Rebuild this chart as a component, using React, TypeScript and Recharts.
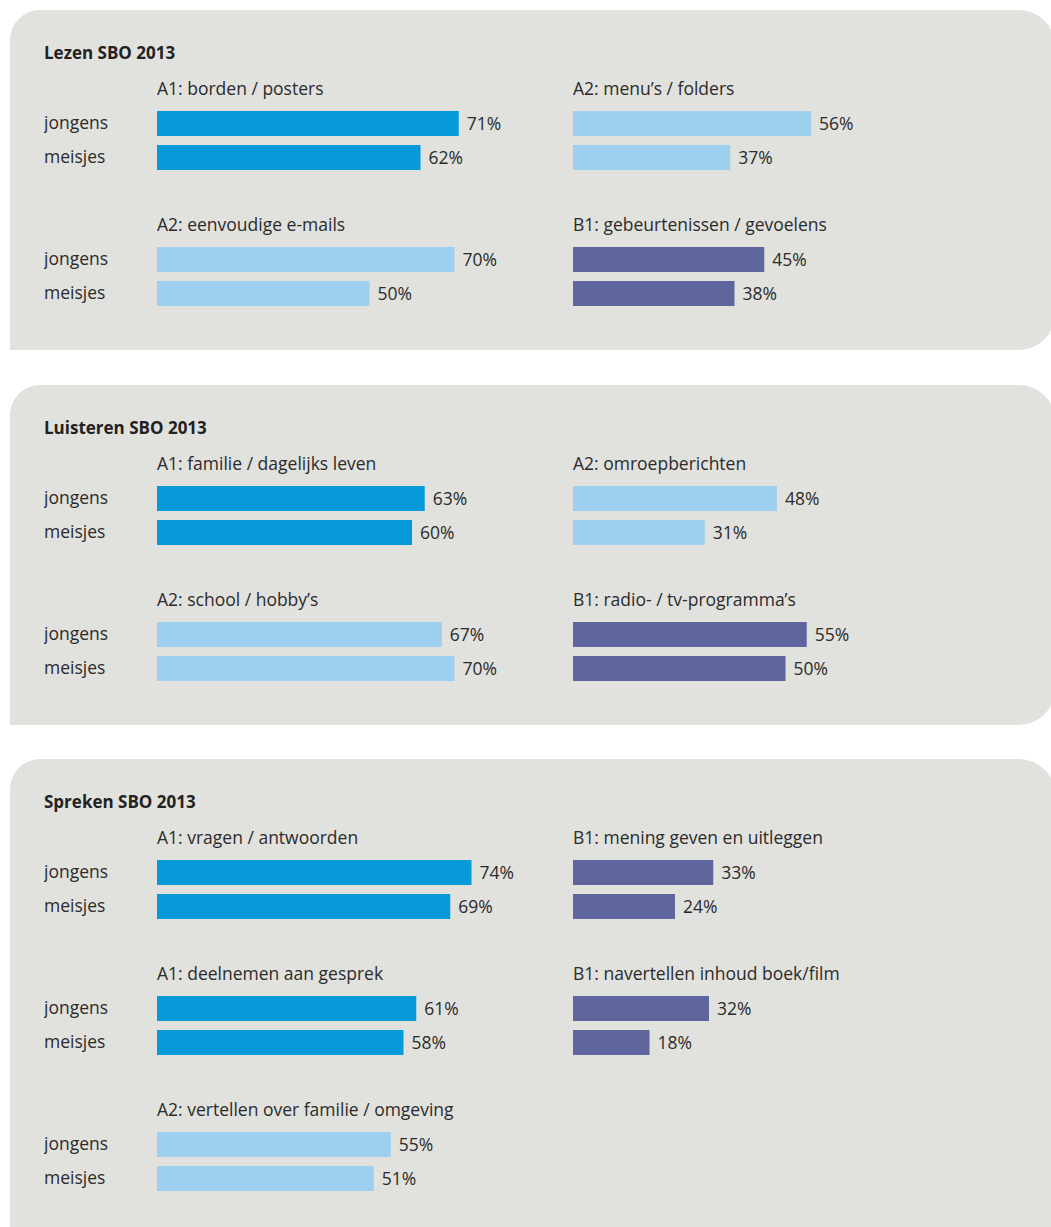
import React from "react";
import { BarChart, Bar, XAxis, YAxis, LabelList, Cell } from "recharts";

const genders = ["jongens", "meisjes"];

const lezenTitles = ["A1: borden / posters", "A2: menu’s / folders", "A2: eenvoudige e-mails", "B1: gebeurtenissen / gevoelens"];
const lezenJongens = [71, 56, 70, 45];
const lezenMeisjes = [62, 37, 50, 38];

const luisterenTitles = ["A1: familie / dagelijks leven", "A2: omroepberichten", "A2: school / hobby’s", "B1: radio- / tv-programma’s"];
const luisterenJongens = [63, 48, 67, 55];
const luisterenMeisjes = [60, 31, 70, 50];

const sprekenTitles = ["A1: vragen / antwoorden", "B1: mening geven en uitleggen", "A1: deelnemen aan gesprek", "B1: navertellen inhoud boek/film", "A2: vertellen over familie / omgeving"];
const sprekenJongens = [74, 33, 61, 32, 55];
const sprekenMeisjes = [69, 24, 58, 18, 51];

const levelColors: Record<string, string> = {
  A1: "#069ad9",
  A2: "#9dcfee",
  B1: "#5e669d",
};

const FONT = "'Open Sans', 'Noto Sans', sans-serif";
const TEXT = "#2b2b2b";
const BG = "#e1e1de";
const FS = 17.5;

const GenderTick = (props: any) => (
  <text x={0} y={props.y} dy="0.35em" textAnchor="start" fill={TEXT} fontSize={FS} fontFamily={FONT}>
    {props.payload.value}
  </text>
);

function Group({ title, jongens, meisjes, col, row }: { title: string; jongens: number; meisjes: number; col: number; row: number }) {
  const data = [
    { name: genders[0], value: jongens },
    { name: genders[1], value: meisjes },
  ];
  const color = levelColors[title.slice(0, 2)];
  const left = col === 0 ? 34 : 563;
  const top = row * 136;
  return (
    <>
      <div
        style={{
          position: "absolute",
          left: 147 + col * 416,
          top: top + 67,
          fontSize: FS,
          lineHeight: "22px",
          color: TEXT,
          whiteSpace: "nowrap",
        }}
      >
        {title}
      </div>
      <div style={{ position: "absolute", left, top: top + 96 }}>
        <BarChart
          width={col === 0 ? 538 : 425}
          height={68}
          data={data}
          layout="vertical"
          margin={{ top: 0, right: 0, bottom: 0, left: 0 }}
          barCategoryGap={9}
          style={{ overflow: "visible" }}
        >
          <XAxis type="number" domain={[0, 100]} hide />
          <YAxis
            type="category"
            dataKey="name"
            width={col === 0 ? 113 : 0}
            hide={col !== 0}
            axisLine={false}
            tickLine={false}
            tick={<GenderTick />}
          />
          <Bar dataKey="value" barSize={25} isAnimationActive={false}>
            {data.map((d) => (
              <Cell key={d.name} fill={color} />
            ))}
            <LabelList
              dataKey="value"
              position="right"
              offset={8}
              formatter={(v: any) => `${v}%`}
              fill={TEXT}
              fontSize={FS}
              fontFamily={FONT}
            />
          </Bar>
        </BarChart>
      </div>
    </>
  );
}

function Panel({ heading, titles, jongens, meisjes, top, height }: { heading: string; titles: string[]; jongens: number[]; meisjes: number[]; top: number; height: number }) {
  return (
    <div
      style={{
        position: "absolute",
        left: 10,
        top,
        width: 1045,
        height,
        background: BG,
        borderRadius: "30px 36px 36px 0",
      }}
    >
      <div
        style={{
          position: "absolute",
          left: 34,
          top: 33,
          fontSize: 17,
          lineHeight: "20px",
          fontWeight: 700,
          color: "#222",
        }}
      >
        {heading}
      </div>
      {titles.map((t, i) => (
        <Group key={t} title={t} jongens={jongens[i]} meisjes={meisjes[i]} col={i % 2} row={Math.floor(i / 2)} />
      ))}
    </div>
  );
}

export default function App() {
  return (
    <div
      style={{
        position: "absolute",
        left: 0,
        top: 0,
        width: 1051,
        height: 1227,
        overflow: "hidden",
        background: "#fff",
        fontFamily: FONT,
      }}
    >
      <Panel heading="Lezen SBO 2013" titles={lezenTitles} jongens={lezenJongens} meisjes={lezenMeisjes} top={10} height={340} />
      <Panel heading="Luisteren SBO 2013" titles={luisterenTitles} jongens={luisterenJongens} meisjes={luisterenMeisjes} top={385} height={340} />
      <Panel heading="Spreken SBO 2013" titles={sprekenTitles} jongens={sprekenJongens} meisjes={sprekenMeisjes} top={759} height={520} />
    </div>
  );
}
